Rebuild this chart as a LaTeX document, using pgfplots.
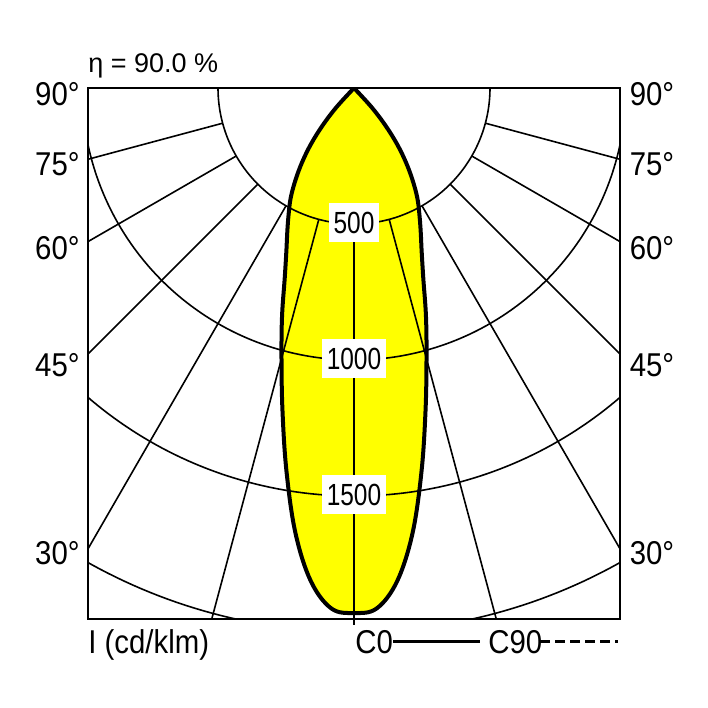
\documentclass[border=0pt]{standalone}
\usepackage{fontspec}
\setmainfont{Liberation Sans}
\newfontfamily\sidefont{Liberation Sans}[FakeStretch=0.89]
\newfontfamily\numfont{Liberation Sans}[FakeStretch=0.8]
\usepackage{pgfplots}
\pgfplotsset{compat=1.18}
\usepackage{pgfplotstable}
\definecolor{ldcyellow}{RGB}{255,255,0}

\pgfplotstableread{
a I
-45 0
-42.5 95
-40 180
-37.5 260
-35 332
-32.5 400
-30 465
-27.5 520
-25 580
-22.5 650
-20 745
-17.5 880
-15 1030
-12.5 1215
-10 1430
-7.5 1650
-5 1820
-2.5 1915
0 1930
2.5 1915
5 1820
7.5 1650
10 1430
12.5 1215
15 1030
17.5 880
20 745
22.5 650
25 580
27.5 520
30 465
32.5 400
35 332
37.5 260
40 180
42.5 95
45 0
}\ldc

\begin{document}
\begin{tikzpicture}[x=1pt,y=1pt]
\begin{axis}[name=ax, at={(0,0)}, anchor=north west,
  width=266pt, height=265.5pt, scale only axis,
  xmin=-978, xmax=978, ymin=-1952, ymax=0,
  xtick=\empty, ytick=\empty,
  axis line style={line width=1pt},
  axis on top]
\addplot[fill=ldcyellow, draw=none, smooth, tension=0.6] table[x expr={\thisrow{I}*sin(\thisrow{a})}, y expr={-\thisrow{I}*cos(\thisrow{a})}] {\ldc};
\pgfplotsinvokeforeach{500,1000,1500,2000}{
  \addplot[black, line width=0.8pt, domain=-90:90, samples=181] ({#1*sin(x)},{-#1*cos(x)});
}
\addplot[black, line width=0.8pt] coordinates {(0,-500) (0,-3000)};
\addplot[black, line width=0.8pt] coordinates {(-129.4,-482.96) (-776.5,-2897.8)};
\addplot[black, line width=0.8pt] coordinates {(129.4,-482.96) (776.5,-2897.8)};
\addplot[black, line width=0.8pt] coordinates {(-250,-433.0) (-1500,-2598.1)};
\addplot[black, line width=0.8pt] coordinates {(250,-433.0) (1500,-2598.1)};
\addplot[black, line width=0.8pt] coordinates {(-353.55,-353.55) (-2121.3,-2121.3)};
\addplot[black, line width=0.8pt] coordinates {(353.55,-353.55) (2121.3,-2121.3)};
\addplot[black, line width=0.8pt] coordinates {(-433.0,-250) (-2598.1,-1500)};
\addplot[black, line width=0.8pt] coordinates {(433.0,-250) (2598.1,-1500)};
\addplot[black, line width=0.8pt] coordinates {(-482.96,-129.4) (-2897.8,-776.5)};
\addplot[black, line width=0.8pt] coordinates {(482.96,-129.4) (2897.8,-776.5)};
\addplot[black, line width=2pt, line join=round, smooth, tension=0.6] table[x expr={\thisrow{I}*sin(\thisrow{a})}, y expr={-\thisrow{I}*cos(\thisrow{a})}] {\ldc};
\end{axis}
\draw[line width=0.8pt] (133,-265.5) -- (133,-268.5);
% center labels
\tikzset{cl/.style={fill=white, inner xsep=2.2pt, inner ysep=0pt, minimum height=19.5pt, font=\numfont\fontsize{15.3}{17}\selectfont}}
\node[cl] at (133,-67.25) {500};
\node[cl] at (133,-135.25) {1000};
\node[cl] at (133,-203.25) {1500};
% side labels
\tikzset{sl/.style={inner sep=0pt, font=\sidefont\fontsize{16.5}{18}\selectfont}}
\node[sl, anchor=east] at (-4,-3) {90°};
\node[sl, anchor=east] at (-4,-38.25) {75°};
\node[sl, anchor=east] at (-4,-80) {60°};
\node[sl, anchor=east] at (-4,-138.5) {45°};
\node[sl, anchor=east] at (-4,-232.5) {30°};
\node[sl, anchor=west] at (270.7,-3) {90°};
\node[sl, anchor=west] at (270.7,-38.25) {75°};
\node[sl, anchor=west] at (270.7,-80) {60°};
\node[sl, anchor=west] at (270.7,-138.5) {45°};
\node[sl, anchor=west] at (270.7,-232.5) {30°};
% top text
\node[inner sep=0pt, anchor=base west, font=\fontsize{13.5}{15}\selectfont] at (0,8) {η = 90.0 \%};
% bottom legend
\node[sl, anchor=base west] at (0,-282.5) {I (cd/klm)};
\node[sl, anchor=base west] at (133.5,-282.5) {C0};
\node[sl, anchor=base west] at (200,-282.5) {C90};
\draw[line width=1.5pt] (152.5,-276.5) -- (196,-276.5);
\draw[line width=1.5pt, dash pattern=on 5pt off 2.5pt] (226,-276.5) -- (265,-276.5);
\path (-44,44) rectangle (310,-310);
\end{tikzpicture}
\end{document}
